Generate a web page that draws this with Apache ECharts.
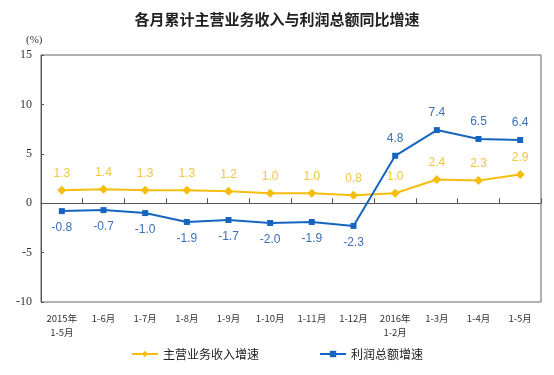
<!DOCTYPE html>
<html><head><meta charset="utf-8">
<script src="https://cdn.jsdelivr.net/npm/echarts@6/dist/echarts.min.js"></script>
<style>html,body{margin:0;padding:0;background:#fff}#c{width:554px;height:375px}</style>
</head><body><div id="c"></div>
<script>
const categories = ['2015年\n1-5月','1-6月','1-7月','1-8月','1-9月','1-10月','1-11月','1-12月','2016年\n1-2月','1-3月','1-4月','1-5月'];
const revenueGrowth = [1.3,1.4,1.3,1.3,1.2,1.0,1.0,0.8,1.0,2.4,2.3,2.9];
const profitGrowth = [-0.8,-0.7,-1.0,-1.9,-1.7,-2.0,-1.9,-2.3,4.8,7.4,6.5,6.4];
const yTicks = [-10,-5,0,5,10,15];
const seriesNames = ['主营业务收入增速','利润总额增速'];

const chart = echarts.init(document.getElementById('c'));
chart.setOption({
  animation:false,
  title:{text:'各月累计主营业务收入与利润总额同比增速',left:'center',top:7,
    textStyle:{fontFamily:'Noto Sans CJK SC',fontSize:15,fontWeight:'bold',color:'#222'}},
  graphic:[{type:'text',left:26,top:35,style:{text:'(%)',font:'11px "Liberation Serif"',fill:'#333'}}],
  legend:{bottom:10,left:'center',itemGap:60,itemWidth:26,itemHeight:8,
    textStyle:{fontFamily:'Noto Sans CJK SC',fontSize:12,color:'#222'},
    data:seriesNames},
  grid:{left:41,right:13,top:55,bottom:73,show:true,borderColor:'#666',borderWidth:1},
  xAxis:{type:'category',data:categories,boundaryGap:true,
    axisLine:{onZero:true,lineStyle:{color:'#555',width:1}},
    axisTick:{show:true,inside:true,length:5,alignWithLabel:false,lineStyle:{color:'#555'}},
    axisLabel:{interval:0,margin:9,fontFamily:'Noto Sans CJK SC',fontSize:9.5,color:'#333',lineHeight:14},
    position:'bottom'},
  yAxis:{type:'value',min:-10,max:15,interval:5,
    splitLine:{show:false},
    axisLine:{show:true,lineStyle:{color:'#555'}},
    axisTick:{show:true,inside:true,length:3,lineStyle:{color:'#555'}},
    axisLabel:{fontFamily:'Liberation Serif',fontSize:12,color:'#333',margin:9,
      formatter:v=>yTicks.includes(v)?String(v):''}},
  series:[
    {name:seriesNames[0],type:'line',data:revenueGrowth,symbol:'diamond',symbolSize:9,
      itemStyle:{color:'#F5BE0F'},lineStyle:{color:'#F5BE0F',width:2},
      label:{show:true,position:'top',distance:6,color:'#F2C543',fontFamily:'Liberation Sans',fontSize:12,
        formatter:p=>p.value.toFixed(1)}},
    {name:seriesNames[1],type:'line',symbol:'rect',symbolSize:6,
      itemStyle:{color:'#1565C0'},lineStyle:{color:'#1565C0',width:2},
      label:{show:true,color:'#3B6FB6',fontFamily:'Liberation Sans',fontSize:12,distance:8,
        formatter:p=>p.value.toFixed(1)},
      data:profitGrowth.map(v=>({value:v,label:{position:v<0?'bottom':'top'}}))}
  ]
});
</script></body></html>
